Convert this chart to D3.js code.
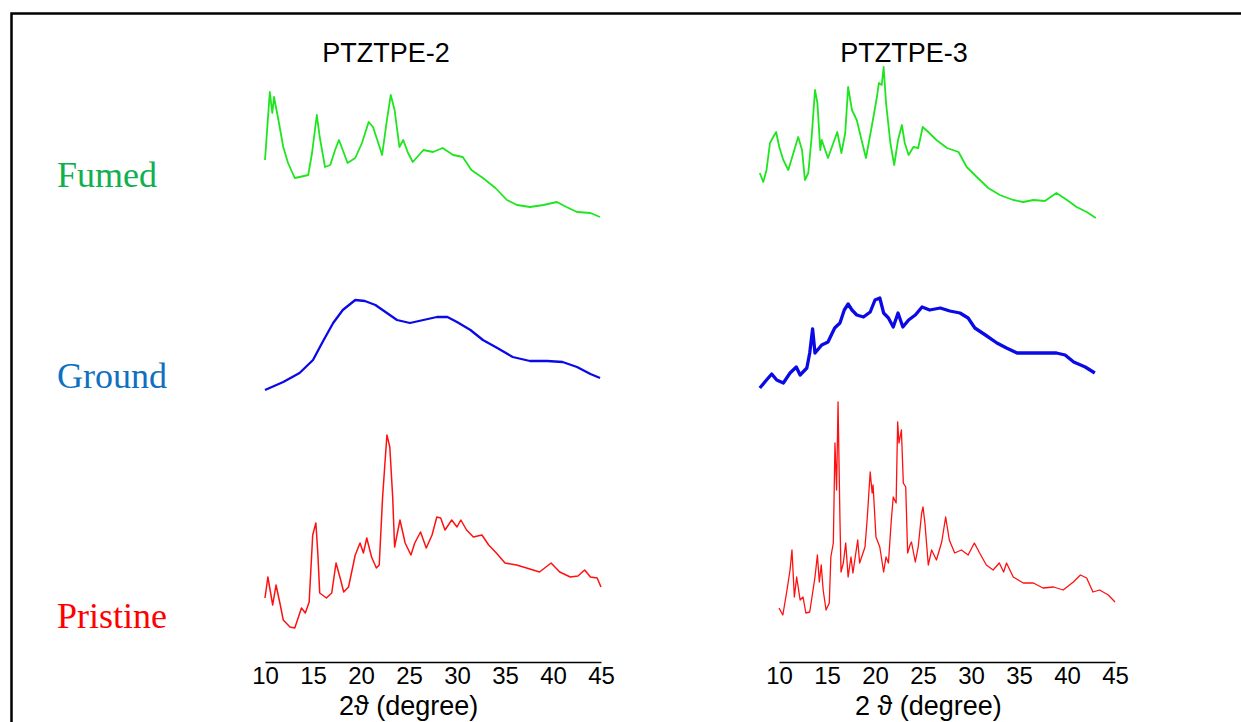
<!DOCTYPE html>
<html><head><meta charset="utf-8">
<script src="https://cdn.jsdelivr.net/npm/d3@7"></script>
<style>html,body{margin:0;padding:0;background:#fff;}svg{display:block;}</style>
</head><body>
<svg id="chart" width="1241" height="722"></svg>
<script>
// ---- data (2θ in degrees, intensity in arbitrary units above each trace's baseline) ----
const sampleNames = ["PTZTPE-2", "PTZTPE-3"];
const stateNames = ["Fumed", "Ground", "Pristine"];
const tickValues = [10, 15, 20, 25, 30, 35, 40, 45];

const ptz2Fumed = [[10.0,80],[10.5,148],[10.76,127],[10.94,143],[11.4,120],[11.9,93],[12.4,77],[13.1,62],[13.6,63],[14.5,65],[14.9,87],[15.4,125],[15.7,103],[16.25,73],[16.8,75],[17.3,90],[17.7,100],[18.1,90],[18.6,77],[19.4,82],[20.1,97],[20.8,118],[21.25,113],[21.8,97],[22.2,85],[22.7,120],[23.1,145],[23.5,130],[24.0,93],[24.4,100],[24.9,87],[25.4,78],[26.5,90],[27.5,88],[28.5,92],[29.6,85],[30.6,83],[31.5,70],[32.7,62],[34.0,52],[35.2,40],[36.25,35],[37.6,33],[39.0,35],[40.4,38],[41.4,33],[42.5,28],[43.9,27],[44.9,23]];
const ptz2Ground = [[10,10],[11.9,18],[13.6,27],[15,40],[16,58],[17.1,77],[18.1,90],[19.4,100],[20.4,99],[21.5,95],[22.7,87],[23.75,80],[25.1,77],[26.5,80],[27.9,83],[29,83],[30,78],[31.4,70],[32.7,60],[34.2,52],[35.8,43],[37.6,39],[39.4,39],[41,38],[42.5,33],[43.9,26],[44.9,22]];
const ptz2Pristine = [[10,42],[10.3,63],[10.8,35],[11.15,55],[11.55,37],[11.9,20],[12.6,13],[13.1,12],[13.8,32],[14.2,27],[14.6,38],[14.97,105],[15.3,117],[15.5,87],[15.7,47],[16.4,42],[16.95,47],[17.4,77],[17.8,63],[18.2,48],[18.7,53],[19.4,85],[19.9,97],[20.25,87],[20.6,102],[21.1,83],[21.6,72],[21.9,75],[22.25,143],[22.7,205],[23.0,193],[23.3,143],[23.5,93],[24.06,120],[24.6,97],[25.2,85],[25.6,97],[26.2,108],[26.8,92],[27.4,105],[27.9,123],[28.3,122],[28.75,110],[29.45,120],[30.0,113],[30.4,120],[31.0,110],[31.7,103],[32.6,105],[33.3,95],[34.1,87],[35.0,77],[36.2,75],[37.25,72],[38.6,68],[39.8,77],[40.7,68],[41.8,63],[42.6,64],[43.3,70],[43.9,63],[44.6,62],[45,53]];

const ptz3Fumed = [[8.0,67],[8.36,58],[8.7,70],[9.06,97],[9.4,103],[9.7,108],[10.03,93],[10.45,80],[10.97,70],[11.5,87],[12.0,103],[12.4,90],[12.7,60],[13.05,67],[13.4,103],[13.75,150],[14.0,137],[14.3,90],[14.45,100],[15.1,82],[15.66,97],[16.07,108],[16.5,87],[16.9,107],[17.2,153],[17.6,130],[18.1,120],[18.6,100],[19.06,82],[19.65,113],[20.2,143],[20.4,157],[20.7,155],[20.9,173],[21.15,137],[21.6,97],[22.0,75],[22.4,100],[22.8,115],[23.1,97],[23.5,85],[24.0,93],[24.5,92],[24.97,113],[25.55,108],[26.4,100],[27.5,92],[28.7,88],[29.55,73],[30.6,63],[31.8,52],[33.0,45],[34.4,40],[35.45,38],[36.5,40],[37.7,39],[38.9,47],[40.0,40],[41.0,33],[42.05,28],[43.0,22]];
const ptz3Ground = [[8.0,12],[8.7,20],[9.24,26],[9.76,20],[10.45,17],[11.15,27],[11.8,33],[12.2,25],[12.9,32],[13.2,47],[13.5,71],[13.75,47],[14.45,55],[15.1,58],[15.8,72],[16.35,77],[16.8,90],[17.2,96],[17.6,90],[18.1,85],[18.8,83],[19.5,88],[20.0,100],[20.5,102],[20.9,87],[21.4,82],[21.9,73],[22.4,87],[22.9,73],[23.5,80],[24.2,85],[24.9,93],[25.7,90],[26.8,92],[27.8,89],[28.85,87],[29.7,82],[30.4,72],[31.5,65],[32.7,57],[33.7,52],[34.8,47],[36.1,47],[37.5,47],[38.9,47],[39.8,45],[40.7,38],[41.9,33],[42.9,27]];
const ptz3Pristine = [[10.0,32],[10.4,25],[10.8,48],[11.15,70],[11.35,90],[11.6,43],[11.84,63],[12.2,40],[12.5,43],[12.8,27],[13.2,28],[13.75,63],[14.0,85],[14.2,58],[14.4,75],[14.6,50],[14.9,30],[15.24,37],[15.4,83],[15.66,97],[15.83,197],[16.0,150],[16.15,238],[16.35,120],[16.46,68],[16.7,77],[16.95,97],[17.2,63],[17.5,83],[17.7,67],[18.2,100],[18.4,77],[18.96,93],[19.2,123],[19.5,168],[19.7,147],[19.8,155],[20.1,103],[20.5,93],[20.9,68],[21.15,83],[21.4,77],[21.7,120],[21.9,143],[22.2,137],[22.36,218],[22.5,197],[22.75,210],[22.95,157],[23.2,153],[23.4,87],[23.65,95],[23.8,98],[24.2,78],[24.5,93],[24.86,127],[25.0,133],[25.2,117],[25.55,75],[25.9,90],[26.4,80],[26.95,98],[27.36,123],[27.74,100],[28.3,87],[29.0,90],[29.7,85],[30.35,97],[30.9,87],[31.6,75],[32.3,70],[32.95,77],[33.4,68],[33.7,77],[34.4,63],[35.45,57],[36.5,57],[37.5,52],[38.6,53],[39.6,50],[40.66,58],[41.4,65],[42.05,62],[42.7,48],[43.4,50],[44.3,45],[45.0,38]];

// ---- layout ----
const svg = d3.select("#chart");
svg.append("rect").attr("x", 11.5).attr("y", 13.5).attr("width", 1260).attr("height", 740)
  .attr("fill", "none").attr("stroke", "#000").attr("stroke-width", 2.5);

const panels = [
  { title: sampleNames[0], x0: 265, x1: 601, titleX: 386, axisTitle: "2ϑ (degree)", axisTitleX: 339,
    series: [ptz2Fumed, ptz2Ground, ptz2Pristine], widths: [1.8, 2.3, 1.5] },
  { title: sampleNames[1], x0: 779, x1: 1115, titleX: 904, axisTitle: "2 ϑ (degree)", axisTitleX: 855,
    series: [ptz3Fumed, ptz3Ground, ptz3Pristine], widths: [1.8, 3.3, 1.3] }
];
const rowBase = [240, 400, 640];
const lineColors = ["#1ee61e", "#0a0ae6", "#ff1010"];
const labelColors = ["#10b050", "#1070c0", "#ff0000"];
const labelY = [187, 388, 628];
const axisY = 662;

stateNames.forEach((s, i) => {
  svg.append("text").attr("x", 57).attr("y", labelY[i]).text(s)
    .attr("font-family", "'Liberation Serif','Times New Roman',serif").attr("font-size", 36)
    .attr("fill", labelColors[i]);
});

panels.forEach(p => {
  const x = d3.scaleLinear().domain([10, 45]).range([p.x0, p.x1]);
  svg.append("text").attr("x", p.titleX).attr("y", 62).attr("text-anchor", "middle")
    .attr("font-family", "'Liberation Sans',Arial,sans-serif").attr("font-size", 27).text(p.title);

  p.series.forEach((data, i) => {
    const y = d3.scaleLinear().domain([0, 250]).range([rowBase[i], rowBase[i] - 250]);
    const line = d3.line().x(d => x(d[0])).y(d => y(d[1]));
    svg.append("path").datum(data).attr("d", line).attr("fill", "none")
      .attr("stroke", lineColors[i]).attr("stroke-width", p.widths[i]).attr("stroke-linejoin", "round");
  });

  const axis = d3.axisBottom(x).tickValues(tickValues).tickSize(0).tickSizeOuter(0).tickPadding(5);
  const g = svg.append("g").attr("transform", `translate(0,${axisY})`).call(axis);
  g.select(".domain").attr("stroke", "#000").attr("stroke-width", 1.6);
  g.selectAll("text").attr("font-family", "'Liberation Sans',Arial,sans-serif").attr("font-size", 24).attr("fill", "#000");

  svg.append("text").attr("x", p.axisTitleX).attr("y", 715)
    .attr("font-family", "'Liberation Sans',Arial,sans-serif").attr("font-size", 27).text(p.axisTitle);
});
</script>
</body></html>
